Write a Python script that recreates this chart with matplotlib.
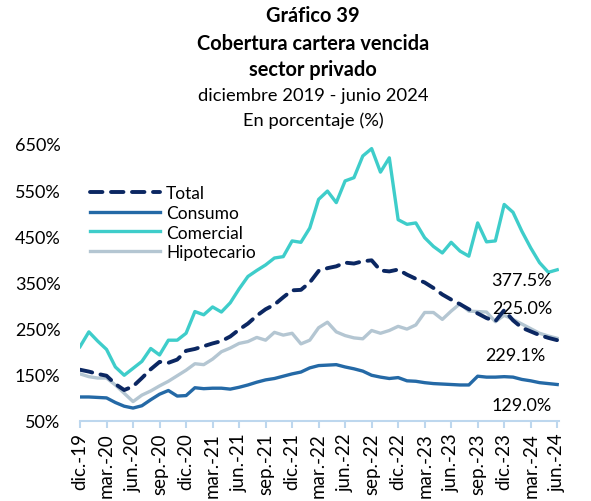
import matplotlib.pyplot as plt

plt.rcParams["font.family"] = ["Lato", "DejaVu Sans"]

# monthly data, dic-2019 .. jun-2024
months = [
    "dic.-19", "ene.-20", "feb.-20", "mar.-20", "abr.-20", "may.-20", "jun.-20",
    "jul.-20", "ago.-20", "sep.-20", "oct.-20", "nov.-20", "dic.-20",
    "ene.-21", "feb.-21", "mar.-21", "abr.-21", "may.-21", "jun.-21",
    "jul.-21", "ago.-21", "sep.-21", "oct.-21", "nov.-21", "dic.-21",
    "ene.-22", "feb.-22", "mar.-22", "abr.-22", "may.-22", "jun.-22",
    "jul.-22", "ago.-22", "sep.-22", "oct.-22", "nov.-22", "dic.-22",
    "ene.-23", "feb.-23", "mar.-23", "abr.-23", "may.-23", "jun.-23",
    "jul.-23", "ago.-23", "sep.-23", "oct.-23", "nov.-23", "dic.-23",
    "ene.-24", "feb.-24", "mar.-24", "abr.-24", "may.-24", "jun.-24",
]

total = [
    161, 157, 152, 148, 130, 117, 125, 143, 162, 178, 176, 183, 202,
    206, 212, 218, 223, 233, 248, 261, 278, 292, 302, 318, 333,
    334, 350, 375, 381, 385, 393, 391, 396, 398, 376, 374, 378,
    367, 358, 350, 338, 324, 313, 303, 292, 283, 273, 266, 290,
    268, 252, 244, 236, 230, 225.0,
]

consumo = [
    102, 102, 101, 100, 90, 82, 78, 83, 96, 108, 116, 104, 105,
    122, 120, 121, 121, 119, 123, 128, 134, 139, 142, 147, 152,
    156, 165, 170, 171, 172, 167, 163, 158, 149, 145, 142, 144,
    137, 136, 133, 131, 130, 129, 128, 128, 147, 145, 145, 146,
    145, 140, 137, 133, 131, 129.0,
]

comercial = [
    211, 243, 223, 205, 167, 149, 164, 179, 207, 193, 225, 225, 240,
    287, 280, 297, 286, 306, 336, 363, 376, 388, 403, 406, 440,
    437, 468, 530, 548, 523, 570, 577, 624, 640, 589, 620, 486,
    476, 479, 447, 428, 414, 437, 418, 407, 479, 438, 440, 519,
    502, 461, 425, 393, 372, 377.5,
]

hipotecario = [
    152, 146, 143, 143, 128, 110, 92, 106, 115, 126, 136, 148, 160,
    174, 172, 184, 200, 208, 218, 222, 231, 225, 242, 236, 240,
    217, 225, 252, 264, 243, 235, 230, 228, 246, 240, 246, 255,
    249, 258, 285, 285, 270, 288, 304, 288, 287, 286, 265, 279,
    270, 260, 250, 240, 234, 229.1,
]

end_labels = ["377.5%", "225.0%", "229.1%", "129.0%"]

x = list(range(len(months)))

fig = plt.figure(figsize=(5.91, 5.02), dpi=100)
ax = fig.add_axes([0.1354, 0.1594, 0.8104, 0.5518])

ax.plot(x, hipotecario, color="#B4C6D2", linewidth=2.4, label="Hipotecario", zorder=2)
ax.plot(x, consumo, color="#2469A6", linewidth=2.4, label="Consumo", zorder=3)
ax.plot(x, comercial, color="#3ECDCA", linewidth=2.4, label="Comercial", zorder=3)
ax.plot(
    x, total, color="#0B2762", linewidth=2.8, label="Total",
    linestyle=(0, (3.2, 2.2)), dash_capstyle="round", zorder=4,
)

ax.set_xlim(0, 54.2)
ax.set_ylim(50, 650)
ax.set_yticks(range(50, 651, 100))
ax.set_yticklabels([f"{v}%" for v in range(50, 651, 100)], fontsize=13)
ax.set_xticks(x[::3])
ax.set_xticklabels(months[::3], rotation=90, fontsize=13.5)

for s in ["left", "top", "right"]:
    ax.spines[s].set_visible(False)
ax.spines["bottom"].set_color("#BDD7EE")
ax.spines["bottom"].set_linewidth(1.5)
ax.tick_params(axis="x", direction="out", length=5, width=1.5, color="#BDD7EE", pad=3)
ax.tick_params(axis="y", length=0, pad=14)

# legend in the same order as the reference
handles, labels = ax.get_legend_handles_labels()
order = [3, 1, 2, 0]
ax.legend(
    [handles[i] for i in order], [labels[i] for i in order],
    loc="upper left", bbox_to_anchor=(0.0, 0.89), frameon=False,
    fontsize=12.5, handlelength=4.0, handletextpad=0.35,
    labelspacing=0.22, borderaxespad=0.2,
)

# end-of-series labels
ax.text(50, 355, end_labels[0], fontsize=13, ha="center", va="center")
ax.text(50, 294, end_labels[1], fontsize=13, ha="center", va="center")
ax.text(49.3, 194, end_labels[2], fontsize=13, ha="center", va="center")
ax.text(50, 85, end_labels[3], fontsize=13, ha="center", va="center")

cx = 0.53
fig.text(cx, 1 - 16 / 502, "Gráfico 39", ha="center", va="center", fontsize=14.4, fontweight="bold")
fig.text(cx, 1 - 44 / 502, "Cobertura cartera vencida", ha="center", va="center", fontsize=14.4, fontweight="bold")
fig.text(cx, 1 - 70 / 502, "sector privado", ha="center", va="center", fontsize=14.4, fontweight="bold")
fig.text(cx, 1 - 96 / 502, "diciembre 2019 - junio 2024", ha="center", va="center", fontsize=13.2)
fig.text(cx, 1 - 121 / 502, "En porcentaje (%)", ha="center", va="center", fontsize=13.2)

fig.savefig("out.png", dpi=100)
